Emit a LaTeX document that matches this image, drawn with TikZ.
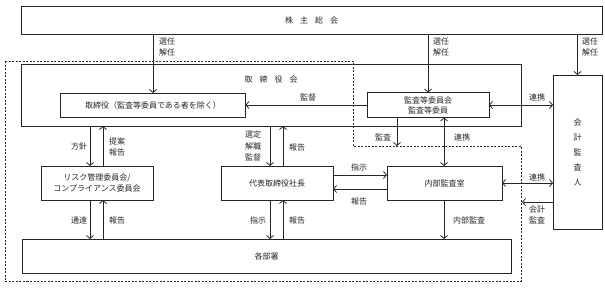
\documentclass[tikz,border=0pt]{standalone}
\usepackage{fontspec}
\setmainfont{Noto Sans CJK JP}
\usetikzlibrary{arrows.meta}
\begin{document}
\begin{tikzpicture}[x=1pt,y=-1pt,
  font=\fontsize{8}{11}\selectfont,
  box/.style={draw=black!85, line width=0.8pt, inner sep=0pt, outer sep=0pt, text=black!85},
  arr/.style={draw=black!85, line width=0.8pt, -{Straight Barb[length=3pt,width=7pt,line width=0.8pt]}},
  darr/.style={draw=black!85, line width=0.8pt, {Straight Barb[length=3pt,width=7pt,line width=0.8pt]}-{Straight Barb[length=3pt,width=7pt,line width=0.8pt]}},
  lbl/.style={inner sep=0pt, align=left, text=black!85, font=\fontsize{8}{10.5}\selectfont},
  sp/.style={}]
\useasboundingbox (0,0) rectangle (605,287);

% dashed region
\draw[black!85, line width=0.8pt, dash pattern=on 2pt off 1.5pt]
  (5,61) -- (353,61) -- (353,146) -- (521,146) -- (521,281) -- (5,281) -- cycle;

% boxes
\node[box, minimum width=581pt, minimum height=28pt] (kabu) at (311.5,20) {株\hspace{7pt}主\hspace{7pt}総\hspace{7pt}会};
\node[box, minimum width=500pt, minimum height=62pt] (torikai) at (271,95) {};
\node[lbl] (torikaiT) at (271,79) {取\hspace{7pt}締\hspace{7pt}役\hspace{7pt}会};
\node[box, minimum width=185pt, minimum height=24pt] (tori) at (153,105) {取締役（監査等委員である者を除く）};
\node[box, minimum width=122pt, minimum height=25pt, align=center, font=\fontsize{8}{10}\selectfont] (kansa) at (428,105) {監査等委員会\\監査等委員};
\node[box, minimum width=49pt, minimum height=154pt, align=center, font=\fontsize{8}{15}\selectfont] (kaikei) at (577.5,152) {会\\計\\監\\査\\人};
\node[box, minimum width=112pt, minimum height=34pt, align=center, font=\fontsize{8}{11}\selectfont] (risk) at (97,183) {リスク管理委員会/\\コンプライアンス委員会};
\node[box, minimum width=112pt, minimum height=34pt] (daihyo) at (277,183) {代表取締役社長};
\node[box, minimum width=115pt, minimum height=34pt] (naibu) at (444.5,183) {内部監査室};
\node[box, minimum width=489pt, minimum height=34pt] (kaku) at (266.5,256) {各部署};

% helper coordinates
\coordinate (xa) at (90,0);
\coordinate (xb) at (103,0);
\coordinate (xc) at (270,0);
\coordinate (xd) at (283,0);
\coordinate (xe) at (397,0);
\coordinate (xf) at (444,0);
\coordinate (ya) at (0,175);
\coordinate (yb) at (0,189);
\coordinate (yc) at (0,202);
\coordinate (kansaEnd) at (397,146);
\coordinate (kaikeiEnd) at (522,202);

% from shareholders
\draw[arr] (kabu.south -| tori.north) -- (tori.north);
\draw[arr] (kabu.south -| kansa.north) -- (kansa.north);
\draw[arr] (kabu.south -| kaikei.north) -- (kaikei.north);
\node[lbl] (l1) at (167,47) {選任\\解任};
\node[lbl] (l2) at (441,47) {選任\\解任};
\node[lbl] (l3) at (590,47) {選任\\解任};

% supervision
\draw[arr] (kansa.west) -- (tori.east);
\node[lbl] (l4) at (308,97) {監督};
\draw[darr] (kansa.east) -- (kansa.east -| kaikei.west);
\node[lbl] (l5) at (537,97) {連携};

% audit
\draw[arr] (kansa.south -| xe) -- (kansaEnd);
\node[lbl] (l6) at (383,137) {監査};
\draw[darr] (kansa.south -| xf) -- (naibu.north -| xf);
\node[lbl] (l7) at (462,137) {連携};

% board <-> risk
\draw[arr] (torikai.south -| xa) -- (risk.north -| xa);
\draw[arr] (risk.north -| xb) -- (torikai.south -| xb);
\node[lbl] (l8) at (79,146) {方針};
\node[lbl] (l9) at (117,147) {提案\\報告};

% board <-> president
\draw[arr] (torikai.south -| xc) -- (daihyo.north -| xc);
\draw[arr] (daihyo.north -| xd) -- (torikai.south -| xd);
\node[lbl, font=\fontsize{8}{11.5}\selectfont] (l10) at (253,146) {選定\\解職\\監督};
\node[lbl] (l11) at (297,147) {報告};

% president <-> internal audit
\draw[arr] (daihyo.east |- ya) -- (naibu.west |- ya);
\draw[arr] (naibu.west |- yb) -- (daihyo.east |- yb);
\node[lbl] (l12) at (359,167) {指示};
\node[lbl] (l13) at (359,201) {報告};

% internal audit <-> accounting auditor
\draw[darr] (naibu.east) -- (naibu.east -| kaikei.west);
\node[lbl] (l14) at (537,177) {連携};
\draw[arr] (kaikei.west |- yc) -- (kaikeiEnd);
\node[lbl] (l15) at (537,215) {会計\\監査};

% down to departments
\draw[arr] (risk.south -| xa) -- (kaku.north -| xa);
\draw[arr] (kaku.north -| xb) -- (risk.south -| xb);
\node[lbl] (l16) at (79,220) {通達};
\node[lbl] (l17) at (117,220) {報告};
\draw[arr] (daihyo.south -| xc) -- (kaku.north -| xc);
\draw[arr] (kaku.north -| xd) -- (daihyo.south -| xd);
\node[lbl] (l18) at (258,220) {指示};
\node[lbl] (l19) at (297,220) {報告};
\draw[arr] (naibu.south -| xf) -- (kaku.north -| xf);
\node[lbl] (l20) at (469,220) {内部監査};
\end{tikzpicture}
\end{document}
